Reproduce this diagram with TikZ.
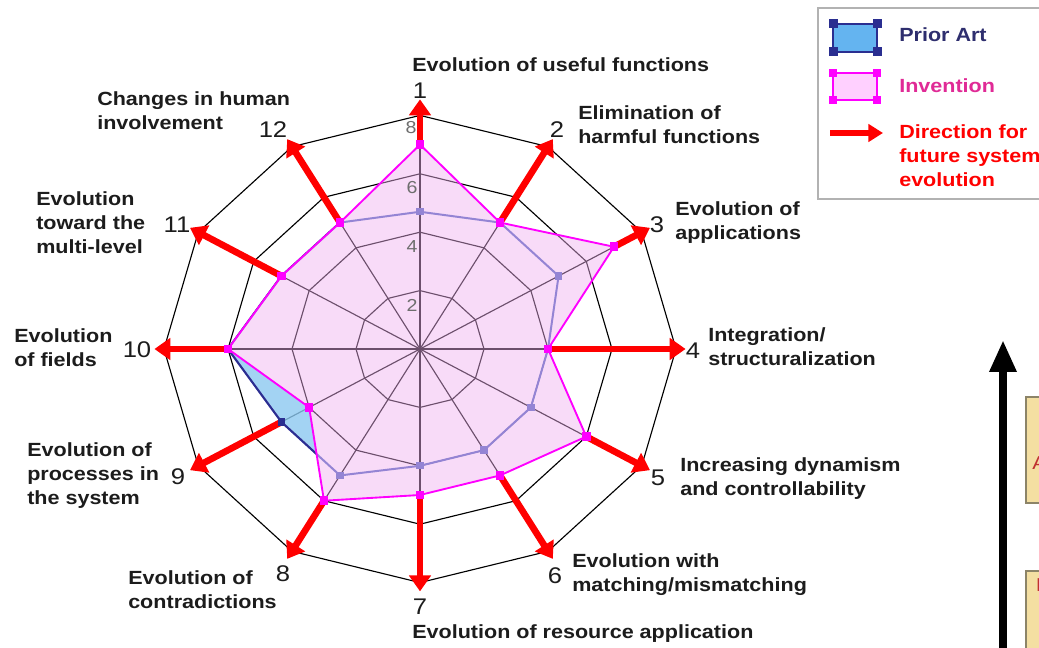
\documentclass[tikz,border=0pt]{standalone}
\usepackage{fontspec}
\setmainfont[FakeStretch=1.13]{Liberation Sans}
\usetikzlibrary{arrows.meta}

\definecolor{invfill}{HTML}{F0B0F0}
\definecolor{invline}{HTML}{FF00FF}
\definecolor{prifill}{HTML}{8CC8F0}
\definecolor{priline}{HTML}{2A2E90}
\definecolor{prisoft}{HTML}{9484D4}
\definecolor{dirred}{HTML}{FF0000}
\definecolor{txt}{HTML}{1C1C1C}
\definecolor{scalegray}{HTML}{6E6E6E}
\definecolor{legpink}{HTML}{E02A96}
\definecolor{legnavy}{HTML}{2E2E6E}
\definecolor{legblue}{HTML}{64B4F0}
\definecolor{legpinkfill}{HTML}{FFD0FF}
\definecolor{tanfill}{HTML}{F4DFA2}
\definecolor{tanedge}{HTML}{8C8468}
\definecolor{boxred}{HTML}{C03030}

\begin{document}
\begin{tikzpicture}[x=0.75pt,y=-0.75pt,
  gridline/.style={draw=black, line width=0.85pt, line join=round},
  invedge/.style={draw=invline, line width=1.4pt, line join=round},
  priedge/.style={line width=1.5pt, line join=round},
  dirarrow/.style={draw=dirred, line width=5pt, -{Triangle[width=16pt,length=12pt]}},
  invmark/.style={rectangle, fill=invline, minimum size=6.5pt, inner sep=0pt},
  primark/.style={rectangle, fill=prisoft, minimum size=5.5pt, inner sep=0pt},
  catlabel/.style={font={\bfseries\fontsize{14.3}{18}\selectfont}, text=txt, align=left, anchor=west, inner sep=0pt},
  axisnum/.style={font={\fontsize{17}{20}\selectfont}, text=txt, inner sep=0pt},
  scalenum/.style={font={\fontsize{13}{15}\selectfont}, text=scalegray, inner sep=0pt},
  legtext/.style={font={\bfseries\fontsize{14.3}{18}\selectfont}, align=left, anchor=west, inner sep=0pt}]

\useasboundingbox (0,0) rectangle (1039,648);
\clip (0,0) rectangle (1039,648);
\fill[white] (0,0) rectangle (1039,648);

% ---------------- radar chart ----------------
\begin{scope}[shift={(420,349)}, x=24pt, y=21.9pt]
  % axis / invention value / prior-art value
  \foreach \k/\v/\p in {1/7/4.7, 2/5/5, 3/7/5, 4/4/4, 5/6/4, 6/5/4,
                        7/5/4, 8/6/5, 9/4/5, 10/6/6, 11/5/5, 12/5/5} {
    \pgfmathsetmacro\ang{90-30*(\k-1)}
    \pgfmathsetmacro\st{max(\v,\p)}
    \coordinate (inv\k) at (\ang:\v);
    \coordinate (pri\k) at (\ang:\p);
    \coordinate (st\k) at (\ang:\st);
    \coordinate (rim\k) at (\ang:8);
    \coordinate (tip\k) at (\ang:8.3);
  }
  \coordinate (tip1) at (90:8.55);
  \coordinate (ctr) at (0,0);

  % rings and spokes
  \foreach \r in {2,4,6,8}
    \draw[gridline] (90:\r) \foreach \a in {60,30,...,-240} { -- (\a:\r) } -- cycle;
  \foreach \k in {1,...,12}
    \draw[gridline] (ctr) -- (rim\k);

  % prior art where it exceeds the invention
  \begin{scope}[even odd rule]
    \clip (pri1) \foreach \k in {2,...,12} { -- (pri\k) } -- cycle;
    \fill[prifill, fill opacity=0.8]
      (pri1) \foreach \k in {2,...,12} { -- (pri\k) } -- cycle
      (inv1) \foreach \k in {2,...,12} { -- (inv\k) } -- cycle;
  \end{scope}

  % invention area
  \fill[invfill, fill opacity=0.45] (inv1) \foreach \k in {2,...,12} { -- (inv\k) } -- cycle;

  % prior art outline: soft inside the invention area, dark outside it
  \draw[priedge, draw=prisoft] (pri1) \foreach \k in {2,...,12} { -- (pri\k) } -- cycle;
  \begin{scope}[even odd rule]
    \clip (-12,-12) rectangle (12,12)
      (inv1) \foreach \k in {2,...,12} { -- (inv\k) } -- cycle;
    \draw[priedge, draw=priline] (pri1) \foreach \k in {2,...,12} { -- (pri\k) } -- cycle;
  \end{scope}

  % invention outline
  \draw[invedge] (inv1) \foreach \k in {2,...,12} { -- (inv\k) } -- cycle;

  % directions for future evolution
  \foreach \k in {1,...,12}
    \draw[dirarrow] (st\k) -- (tip\k);

  % markers
  \foreach \k in {1,...,8,10,11,12}
    \node[primark] (pm\k) at (pri\k) {};
  \node[primark, fill=priline] (pm9) at (pri9) {};
  \foreach \k in {1,...,12}
    \node[invmark] (im\k) at (inv\k) {};
\end{scope}

% scale values on axis 1
\node[scalenum] (s2) at (412,305) {2};
\node[scalenum] (s4) at (412,247) {4};
\node[scalenum] (s6) at (412,188) {6};
\node[scalenum] (s8) at (411,128) {8};

% axis numbers
\node[axisnum] (n1)  at (420,91)  {1};
\node[axisnum] (n2)  at (557,130) {2};
\node[axisnum] (n3)  at (657,225) {3};
\node[axisnum] (n4)  at (693,351) {4};
\node[axisnum] (n5)  at (658,478) {5};
\node[axisnum] (n6)  at (555,576) {6};
\node[axisnum] (n7)  at (420,607) {7};
\node[axisnum] (n8)  at (283,574) {8};
\node[axisnum] (n9)  at (178,477) {9};
\node[axisnum] (n10) at (137,350) {10};
\node[axisnum] (n11) at (177,225) {11};
\node[axisnum] (n12) at (273,130) {12};

% axis titles
\node[catlabel] (c1)  at (412,65)  {Evolution of useful functions};
\node[catlabel] (c2)  at (578,125) {Elimination of\\harmful functions};
\node[catlabel] (c3)  at (675,223) {Evolution of\\applications};
\node[catlabel] (c4)  at (708,347) {Integration/\\structuralization};
\node[catlabel] (c5)  at (680,479) {Increasing dynamism\\and controllability};
\node[catlabel] (c6)  at (572,575) {Evolution with\\matching/mismatching};
\node[catlabel] (c7)  at (412,634) {Evolution of resource application};
\node[catlabel] (c8)  at (128,590) {Evolution of\\contradictions};
\node[catlabel] (c9)  at (27,476)  {Evolution of\\processes in\\the system};
\node[catlabel] (c10) at (14,348)  {Evolution\\of fields};
\node[catlabel] (c11) at (36,223)  {Evolution\\toward the\\multi-level};
\node[catlabel] (c12) at (97,111)  {Changes in human\\involvement};

% ---------------- legend ----------------
\draw[draw=black!30, line width=1pt, fill=white] (818,8) rectangle (1060,199);
\draw[draw=priline, line width=1.6pt, fill=legblue] (833,24) rectangle (877,52);
\foreach \cx/\cy in {833/24, 877/24, 833/52, 877/52}
  \fill[priline] (\cx-4.5,\cy-4.5) rectangle (\cx+4.5,\cy+4.5);
\draw[draw=invline, line width=1.6pt, fill=legpinkfill] (833,73) rectangle (877,100);
\foreach \cx/\cy in {833/73, 877/73, 833/100, 877/100}
  \fill[invline] (\cx-4,\cy-4) rectangle (\cx+4,\cy+4);
\coordinate (legA) at (830,133);
\coordinate (legB) at (883,133);
\draw[draw=dirred, line width=3.8pt, -{Triangle[width=13pt,length=11pt]}] (legA) -- (legB);
\node[legtext, text=legnavy] (lp) at (899,35) {Prior Art};
\node[legtext, text=legpink] (li) at (899,86) {Invention};
\node[legtext, text=dirred]  (ld) at (899,156) {Direction for\\future system\\evolution};

% ---------------- right-hand scale ----------------
\coordinate (axbot) at (1003,670);
\coordinate (axtop) at (1003,340);
\draw[line width=6pt, -{Triangle[width=19pt,length=24pt]}] (axbot) -- (axtop);
\draw[draw=tanedge, line width=1.2pt, fill=tanfill] (1026,397) rectangle (1070,503);
\draw[draw=tanedge, line width=1.2pt, fill=tanfill] (1026,571) rectangle (1070,680);
\node[font={\fontsize{14}{16}\selectfont}, text=boxred, anchor=west, inner sep=0pt] (ba) at (1032,463) {A};
\node[font={\bfseries\fontsize{14}{16}\selectfont}, text=boxred, anchor=west, inner sep=0pt] (bb) at (1036,585) {P};
\end{tikzpicture}
\end{document}
